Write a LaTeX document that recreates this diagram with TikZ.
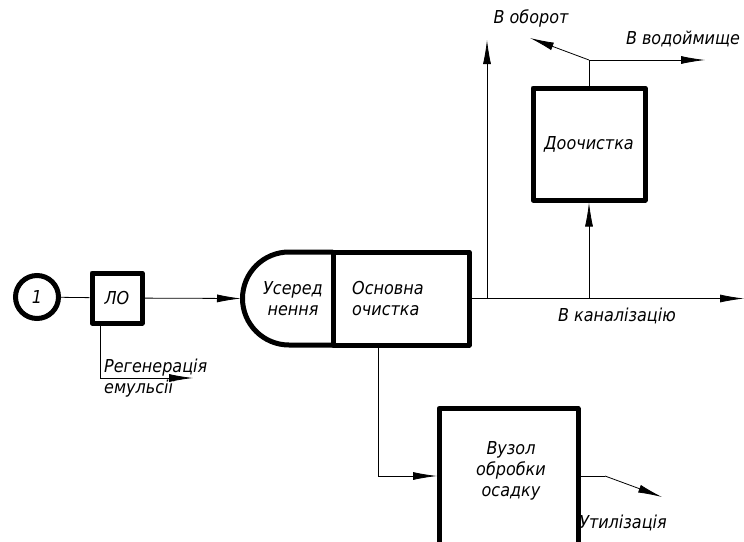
\documentclass[tikz,border=0pt]{standalone}
\usepackage{fontspec}
\setmainfont{DejaVu Sans Condensed}
\usetikzlibrary{arrows.meta,positioning}

\tikzset{
  unit/.style={draw,line width=5pt,line join=round,inner sep=0pt},
  pipe/.style={line width=0.8pt},
  flow/.style={pipe,-{Latex[length=24pt,width=8pt]}},
  lbl/.style={font=\itshape\fontsize{17.8}{21}\selectfont,inner sep=0pt},
}

\begin{document}
\begin{tikzpicture}[x=1pt,y=-1pt]
\useasboundingbox (0,0) rectangle (744,541);
\clip (0,0) rectangle (744,541);

% sources and local treatment
\node[circle,draw,line width=5pt,minimum size=43pt,inner sep=0pt,lbl] (src) at (37,297) {1};
\node[unit,minimum size=50pt,lbl] (lo) at (117,298) {ЛО};

% averaging + main treatment block
\node[unit,minimum width=136pt,minimum height=93pt] (main) at (401,298.5) {};
\draw[line width=5pt,line join=round] (333,252) -- (289,252)
  arc[start angle=90,end angle=270,radius=46.5pt] -- (333,345);
\node[lbl,align=center] (avg) at (293,299) {Усеред\\нення};
\node[lbl,align=left,anchor=west] (maintxt) at (352,299) {Основна\\очистка};
\coordinate (avgin) at (241,298.5);

% post treatment
\node[unit,minimum size=112pt,lbl] (post) at (589,144) {Доочистка};
\coordinate (top) at (589,60);
\coordinate (reservoir) at (705,60);
\coordinate (back) at (530,38);

% outlets of main block
\coordinate (split) at (487,298.5);
\coordinate (recirc) at (487,40);
\coordinate (sewer) at (744,298.5);

% sludge treatment
\node[unit,minimum width=139pt,minimum height=170pt,anchor=north] (sludge) at (508.5,406) {};
\node[lbl,align=center] (sludgetxt) at (511,471) {Вузол\\обробки\\осадку};
\coordinate (sludgeout) at (378,345);
\coordinate (sludgein) at (437,476);
\coordinate (bend) at (605,476);
\coordinate (util) at (662,497);

% regeneration outlet
\coordinate (regenout) at (100,323);
\coordinate (regen) at (193,378);

% connectors
\draw[pipe] (src) -- (lo);
\draw[flow] (lo) -- (avgin);
\draw[flow] (regenout) |- (regen);
\draw[flow] (main.east) -- (sewer);
\draw[flow] (split) -- (recirc);
\draw[flow] (post.south |- split) -- (post.south);
\draw[pipe] (post.north) -- (top);
\draw[flow] (top) -- (reservoir);
\draw[flow] (top) -- (back);
\draw[flow] (sludgeout) |- (sludgein);
\draw[pipe] (sludgein -| sludge.east) -- (bend);
\draw[flow] (bend) -- (util);

% labels
\node[lbl,align=left,anchor=west] (regentxt) at (104,378) {Регенерація\\емульсії};
\node[lbl] (recirctxt) at (531,18) {В оборот};
\node[lbl] (reservoirtxt) at (683,39) {В водоймище};
\node[lbl] (sewertxt) at (617,316) {В каналізацію};
\node[lbl] (utiltxt) at (623,523) {Утилізація};
\end{tikzpicture}
\end{document}
